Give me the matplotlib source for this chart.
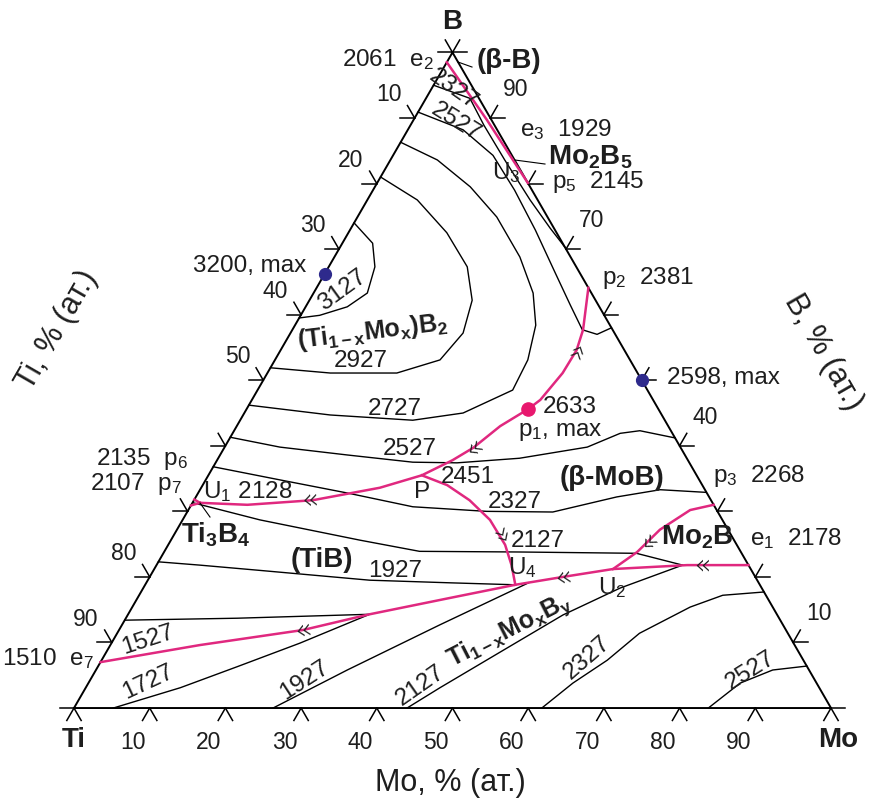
import matplotlib.pyplot as plt
import numpy as np

plt.rcParams['font.family'] = ['Liberation Sans', 'DejaVu Sans']
plt.rcParams['mathtext.fontset'] = 'custom'
plt.rcParams['mathtext.rm'] = 'Liberation Sans'
plt.rcParams['mathtext.it'] = 'Liberation Sans'
plt.rcParams['mathtext.bf'] = 'Liberation Sans:bold'

S3 = np.sqrt(3) / 2

# liquidus isotherms, points given as (Mo, B) in at.%
iso_3127 = [(0, 74.0), (4.0, 70.9), (6.1, 67.3), (7.1, 63.3), (5.5, 61.2), (2.5, 59.9), (0, 59.5)]
iso_2927 = [(0, 81.0), (6.6, 77.5), (13.0, 72.5), (18.3, 67.3), (21.5, 62.2), (22.8, 57.2),
            (21.8, 53.1), (17.1, 51.1), (8.3, 51.1), (0, 51.9)]
iso_2727 = [(0, 86.3), (6.2, 83.6), (12.6, 79.5), (18.4, 74.9), (24.5, 68.8), (29.0, 63.3),
            (31.8, 58.4), (33.4, 53.1), (33.7, 48.5), (28.9, 45.0), (22.8, 43.9), (11.5, 44.7), (0, 46.2)]
iso_2527_top = [(0, 90.9), (7.3, 88.2), (13.2, 84.3), (18.7, 79.0), (24.5, 72.9), (30.0, 66.8),
                (34.8, 61.5), (38.3, 57.7), (40.6, 57.0), (42.0, 58.0)]
iso_2527_mid = [(0, 41.3), (7.3, 39.8), (16.8, 38.6), (26.0, 37.5), (31.9, 37.4), (39.8, 38.1),
                (47.9, 39.8), (51.2, 41.9), (53.6, 42.3), (58.8, 41.2)]
iso_2327_top = [(0, 95.0), (5.8, 93.0), (9.7, 88.9), (15.1, 83.6), (21.5, 77.5), (26.3, 73.2), (29.7, 70.3)]
iso_2327_mid = [(0, 36.8), (9.8, 34.8), (19.7, 32.8), (29.4, 30.7), (39.5, 30.0), (48.3, 29.9),
                (55.6, 32.2), (60.8, 33.3), (67.0, 32.9)]
iso_2127_top = [(0.1, 31.3), (10.2, 28.7), (25.0, 25.6), (33.7, 23.9), (47.0, 23.8), (62.5, 23.6), (69.5, 21.8)]
iso_1927_top = [(0, 22.3), (5.7, 21.8), (14.0, 21.0), (29.3, 19.5), (40.1, 19.1), (48.9, 18.8)]
iso_1727 = [(0, 13.4), (14.7, 13.7), (31.9, 14.3), (24.9, 9.9), (18.4, 6.3), (12.5, 3.1), (5.2, 0)]
iso_1927_low = [(26.3, 0), (33.2, 5.8), (42.0, 12.7), (50.5, 19.1)]
iso_2127_low = [(44.0, 0), (46.8, 3.1), (52.0, 8.5), (57.5, 14.2), (63.0, 18.3), (69.5, 21.8)]
iso_2327_low = [(61.8, 0), (64.0, 3.8), (66.8, 7.3), (69.0, 11.4), (73.7, 15.4), (77.1, 17.2), (82.3, 17.7)]
iso_2527_low = [(83.8, 0), (86.1, 3.8), (89.4, 5.8), (93.6, 6.4)]

# monovariant lines
line_e2_p5 = [(0, 98.5), (9.7, 89.7), (19.9, 80.1)]
line_p2_u1 = [(35.9, 64.1), (38.4, 57.7), (39.1, 54.6), (39.0, 51.1), (38.1, 47.0), (37.2, 45.6),
              (34.8, 43.0), (32.9, 39.7), (31.1, 37.8), (28.2, 35.5), (23.6, 33.6), (15.7, 31.7),
              (7.4, 31.0), (1.0, 31.3)]
line_u1_p6 = [(1.0, 31.3), (0, 31.8)]
line_u1_p7 = [(1.0, 31.3), (0, 30.9)]
line_P_u4 = [(28.2, 35.5), (32.3, 34.0), (36.4, 31.7), (40.6, 28.7), (44.5, 24.9), (46.9, 21.8), (48.9, 18.8)]
line_e7_e1 = [(0, 7.0), (11.8, 9.6), (24.3, 11.9), (31.9, 14.3), (41.3, 16.8), (48.9, 18.8),
              (54.6, 20.0), (60.6, 21.2), (70.1, 21.8), (78.2, 21.8)]
line_u2_p3 = [(60.6, 21.2), (62.5, 23.8), (63.8, 27.2), (66.3, 30.2), (69.0, 31.0)]

# direction marks on the monovariant lines: (Mo, B, direction in degrees)
marks = [(39.1, 54.6, 65), (33.0, 39.7, 216), (15.3, 31.7, 184), (43.3, 26.1, 301),
         (54.6, 20.0, 189), (63.1, 25.5, 224), (72.0, 21.8, 180), (24.3, 11.9, 190)]

max_blue = [(0, 66.2), (50.0, 50.0)]
p1_point = (37.2, 45.6)

ticks = [10, 20, 30, 40, 50, 60, 70, 80, 90]
left_labels = [10, 20, 30, 40, 50, 80, 90]
right_labels = [90, 70, 40, 10]

PINK = '#e0287f'
INK = '#1e1e1e'


def tern(mo, b):
    mo = np.asarray(mo, float)
    b = np.asarray(b, float)
    return mo + b / 2, b * S3


def at(px, py):
    return (px - 74) / 7.57, (708 - py) / 7.57


fig = plt.figure(figsize=(8.73, 8.05), dpi=100)
ax = fig.add_axes([0, 0, 1, 1])
ax.set_xlim(-9.775, 105.55)
ax.set_ylim(-12.81, 93.53)
ax.axis('off')

# triangle
tx, ty = tern([0, 100, 0, 0], [0, 0, 100, 0])
ax.plot(tx, ty, color='black', lw=1.4, solid_joinstyle='miter')

L = 1.9
dl, dr = (-0.5, -S3), (0.5, -S3)
ul, ur = (-0.5, S3), (0.5, S3)
lf, rt = (-1, 0), (1, 0)


def stub(x, y, d):
    ax.plot([x, x + L * d[0]], [y, y + L * d[1]], color='black', lw=1.1)


tfs = 16.5
for v in ticks:
    x, y = tern(v, 0)
    stub(x, y, dl)
    stub(x, y, dr)
    ax.text(x - 2.2, y - 4.5, str(v), fontsize=tfs, ha='center', va='center', color=INK)
    x, y = tern(0, 100 - v)
    stub(x, y, lf)
    stub(x, y, ul)
    if v in left_labels:
        ax.text(x - 3.4, y + 3.1, str(v), fontsize=tfs, ha='center', va='center', color=INK)
    x, y = tern(100 - v, v)
    stub(x, y, rt)
    stub(x, y, ur)
    if v in right_labels:
        ax.text(x + 3.4, y + 3.8, str(v), fontsize=tfs, ha='center', va='center', color=INK)

# corner crosses
for (mo, b), dirs in [((0, 0), [lf, dl, dr]), ((100, 0), [rt, dl, dr]),
                      ((0, 100), [lf, rt, ul, ur])]:
    x, y = tern(mo, b)
    for d in dirs:
        stub(x, y, d)

for curve in [iso_3127, iso_2927, iso_2727, iso_2527_top, iso_2527_mid, iso_2327_top,
              iso_2327_mid, iso_2127_top, iso_1927_top, iso_1727, iso_1927_low,
              iso_2127_low, iso_2327_low, iso_2527_low]:
    mo, b = zip(*curve)
    ax.plot(*tern(mo, b), color='black', lw=1.0)

for curve in [line_e2_p5, line_p2_u1, line_u1_p6, line_u1_p7, line_P_u4, line_e7_e1, line_u2_p3]:
    mo, b = zip(*curve)
    ax.plot(*tern(mo, b), color=PINK, lw=1.8)

for mo, b, ang in marks:
    x, y = tern(mo, b)
    if 90 < ang % 360 < 270:
        ax.text(x, y, '«', rotation=ang - 180, fontsize=20, ha='center', va='center',
                color=INK, family='DejaVu Sans', fontweight='light')
    else:
        ax.text(x, y, '»', rotation=ang, fontsize=20, ha='center', va='center',
                color=INK, family='DejaVu Sans', fontweight='light')

mo, b = zip(*max_blue)
ax.plot(*tern(mo, b), 'o', color='#2e2a8c', ms=8.5, zorder=5)
ax.plot(*tern(*p1_point), 'o', color='#e8186e', ms=9.5, zorder=5)

# small leader lines
for (x0, y0), (x1, y1) in [((458, 62), (472, 67)), ((515, 160), (545, 164)),
                           ((200, 503), (210, 517))]:
    ax.plot([at(x0, y0)[0], at(x1, y1)[0]], [at(x0, y0)[1], at(x1, y1)[1]], color='black', lw=0.8)

fs = 17.5
fb = 20
labels = [
    ('2061  e$_2$', 388, 60, 0, fs, 'normal'),
    ('e$_3$  1929', 566, 130, 0, fs, 'normal'),
    ('p$_5$  2145', 598, 182, 0, fs, 'normal'),
    ('U$_3$', 506, 173, 0, fs, 'normal'),
    ('p$_2$  2381', 648, 278, 0, fs, 'normal'),
    ('2598, max', 723, 378, 0, fs, 'normal'),
    ('3200, max', 250, 266, 0, fs, 'normal'),
    ('3127', 342, 290, 36, fs, 'normal'),
    ('2927', 361, 361, 0, fs, 'normal'),
    ('2727', 395, 409, 0, fs, 'normal'),
    ('2527', 410, 449, 0, fs, 'normal'),
    ('2633', 570, 407, 0, fs, 'normal'),
    ('p$_1$, max', 560, 432, 0, fs, 'normal'),
    ('2451', 468, 477, 0, fs, 'normal'),
    ('P', 422, 492, 0, fs, 'normal'),
    ('2327', 515, 502, 0, fs, 'normal'),
    ('p$_3$  2268', 759, 476, 0, fs, 'normal'),
    ('U$_1$ 2128', 248, 492, 0, fs, 'normal'),
    ('2135  p$_6$', 142, 459, 0, fs, 'normal'),
    ('2107  p$_7$', 136, 484, 0, fs, 'normal'),
    ('1927', 395, 571, 0, fs, 'normal'),
    ('2127', 538, 541, 0, fs, 'normal'),
    ('U$_4$', 522, 568, 0, fs, 'normal'),
    ('e$_1$  2178', 796, 539, 0, fs, 'normal'),
    ('U$_2$', 612, 588, 0, fs, 'normal'),
    ('1527', 148, 640, 18, fs, 'normal'),
    ('1510  e$_7$', 48, 659, 0, fs, 'normal'),
    ('1727', 148, 682, 25, fs, 'normal'),
    ('1927', 305, 680, 33, fs, 'normal'),
    ('2127', 420, 686, 35, fs, 'normal'),
    ('2327', 587, 658, 41, fs, 'normal'),
    ('2527', 750, 671, 32, fs, 'normal'),
    ('2527', 456, 122, -32, fs, 'normal'),
    ('2327', 453, 90, -35, fs, 'normal'),
    ('B', 452, 22, 0, 20, 'bold'),
    ('Ti', 74, 740, 0, 20, 'bold'),
    ('Mo', 838, 740, 0, 20, 'bold'),
    ('(β-B)', 509, 61, 0, fb, 'bold'),
    (r'Mo$_\mathbf{2}$B$_\mathbf{5}$', 590, 157, 0, fb, 'bold'),
    (r'(Ti$_\mathbf{1-x}$Mo$_\mathbf{x}$)B$_\mathbf{2}$', 372, 332, 7, 18, 'bold'),
    ('(β-MoB)', 612, 478, 0, fb, 'bold'),
    (r'Ti$_\mathbf{3}$B$_\mathbf{4}$', 216, 535, 0, fb, 'bold'),
    ('(TiB)', 322, 560, 0, fb, 'bold'),
    (r'Mo$_\mathbf{2}$B', 697, 537, 0, fb, 'bold'),
    (r'Ti$_\mathbf{1-x}$Mo$_\mathbf{x}$B$_\mathbf{y}$', 510, 631, 27, 18, 'bold'),
    ('Mo, % (ат.)', 450, 783, 0, 22, 'normal'),
    ('Ti, % (ат.)', 57, 330, 60, 22, 'normal'),
    ('B, % (ат.)', 823, 352, -60, 22, 'normal'),
]
for s, px, py, rot, size, weight in labels:
    x, y = at(px, py)
    ax.text(x, y, s, rotation=rot, fontsize=size, fontweight=weight,
            ha='center', va='center', color=INK)

fig.savefig('out.png', dpi=100)
